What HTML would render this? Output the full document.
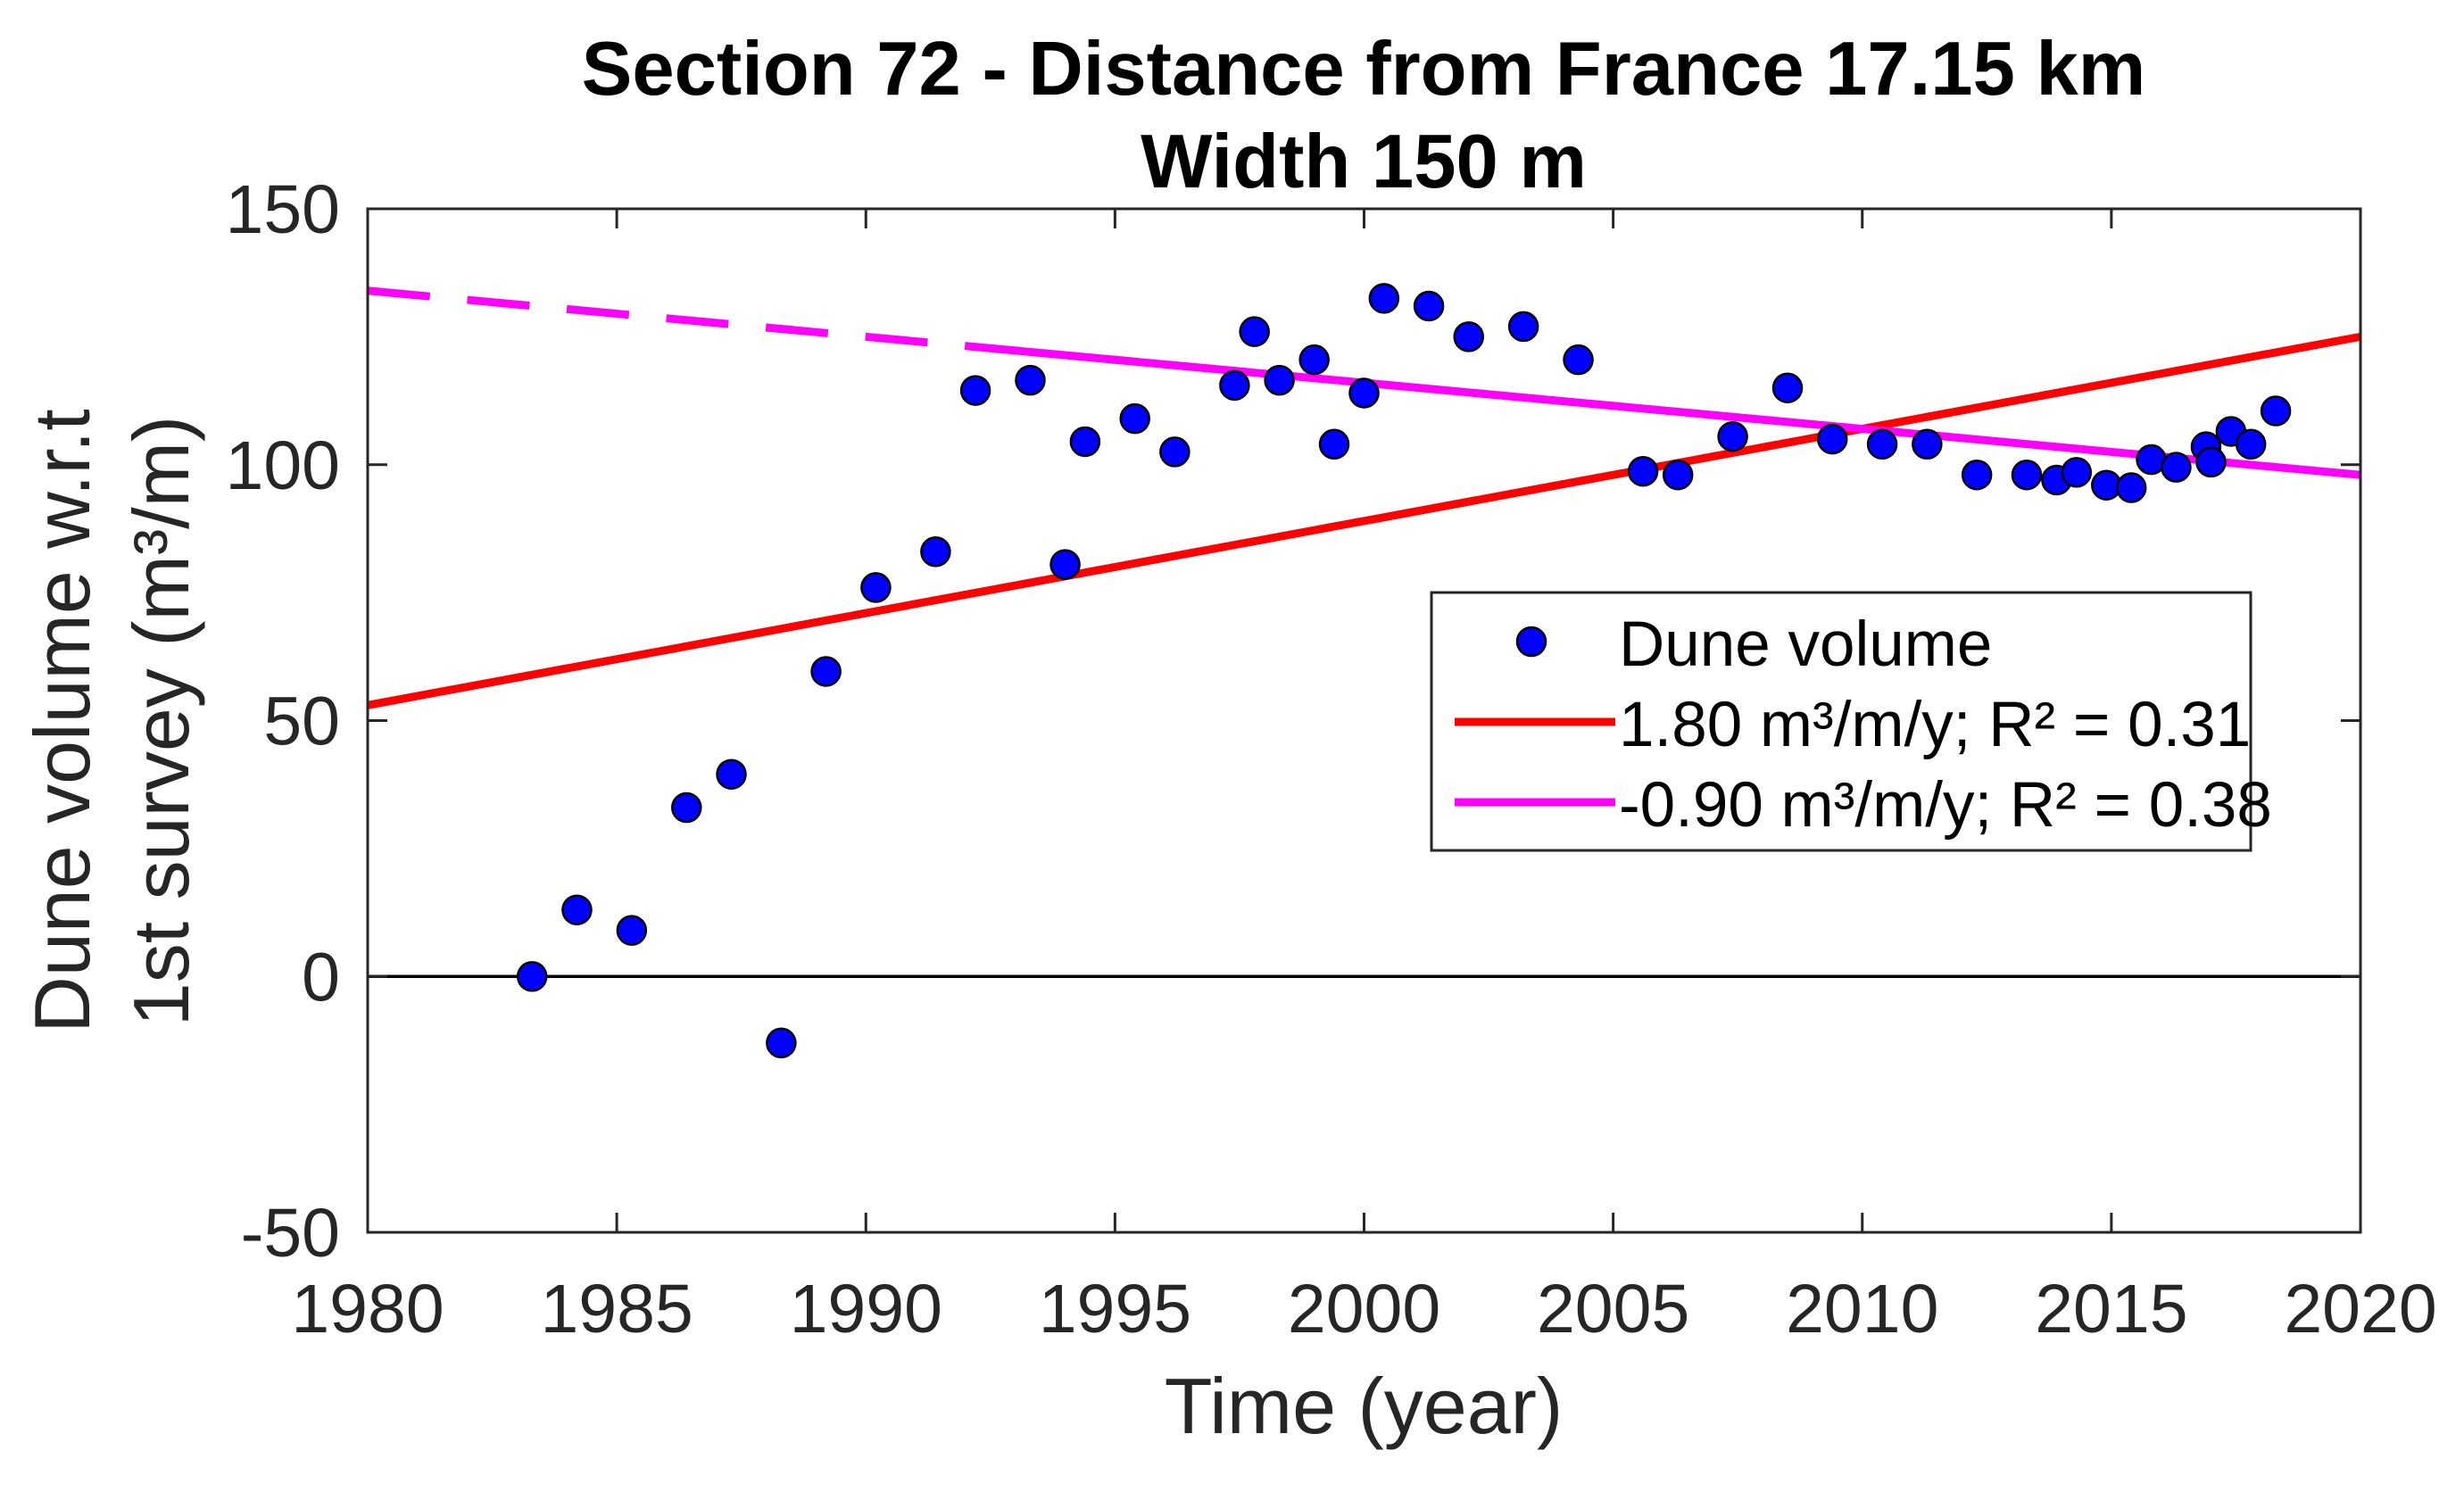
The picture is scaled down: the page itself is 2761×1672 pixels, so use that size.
<!DOCTYPE html>
<html><head><meta charset="utf-8"><style>
html,body{margin:0;padding:0;background:#fff;}
svg{display:block;font-family:"Liberation Sans",Arial,sans-serif;}
</style></head><body>
<svg id="chart" width="2761" height="1672" viewBox="0 0 2761 1672" xmlns="http://www.w3.org/2000/svg">
<rect width="2761" height="1672" fill="#fff"/>
<text x="1528" y="106" font-size="85" font-weight="bold" text-anchor="middle">Section 72 - Distance from France 17.15 km</text>
<text x="1528" y="210" font-size="85" font-weight="bold" text-anchor="middle">Width 150 m</text>
<g id="plot"></g>
<text x="1528" y="1606" font-size="88" text-anchor="middle" fill="#262626">Time (year)</text>
<g fill="#262626" font-size="88" text-anchor="middle">
<text transform="translate(100,808) rotate(-90)">Dune volume w.r.t</text>
<text transform="translate(211,808) rotate(-90)">1st survey (m³/m)</text>
</g>
</svg>
<script>
const years=[1983.3,1984.2,1985.3,1986.4,1987.3,1988.3,1989.2,1990.2,1991.4,1992.2,1993.3,1994.0,1994.4,1995.4,1996.2,1997.4,1997.8,1998.3,1999.0,1999.4,2000.0,2000.4,2001.3,2002.1,2003.2,2004.3,2005.6,2006.3,2007.4,2008.5,2009.4,2010.4,2011.3,2012.3,2013.3,2013.9,2014.3,2014.9,2015.4,2015.8,2016.3,2016.9,2017.0,2017.4,2017.8,2018.3];
const volumes=[0,13,9,33,39.5,-13,59.6,76,83,114.5,116.5,80.5,104.5,109,102.5,115.5,126,116.5,120.5,104,114,132.5,131,125,127,120.5,98.7,98,105.5,115,105,104,104,98,98,97,98.5,96,95.5,101,99.5,103.5,100.5,106.5,104,110.5];
const xTicks=[1980,1985,1990,1995,2000,2005,2010,2015,2020];
const yTicks=[-50,0,50,100,150];
const redFit=[1.80,53]; // slope, value at 1980
const magFit=[-0.90,134];
const magDashEnd=[1992.3];
const NS="http://www.w3.org/2000/svg";
const L=412,R=2645,T=234,B=1381;
const X=v=>L+(v-1980)/40*(R-L);
const Y=v=>B-(v+50)/200*(B-T);
const g=document.getElementById('plot');
function mk(tag,attrs,parent){const e=document.createElementNS(NS,tag);for(const k in attrs)e.setAttribute(k,attrs[k]);(parent||g).appendChild(e);return e;}
let z=mk('line',{x1:L,x2:R,y1:Y(0),y2:Y(0),stroke:'#000','stroke-width':3.5});


xTicks.forEach(t=>{
 let a=mk('line',{x1:X(t),x2:X(t),y1:B,y2:B-22,stroke:'#262626','stroke-width':3});
 
 
 let b=mk('line',{x1:X(t),x2:X(t),y1:T,y2:T+22,stroke:'#262626','stroke-width':3});
 
 
 let tx=mk('text',{x:X(t),y:1493,'font-size':77,'text-anchor':'middle',fill:'#262626'});
 tx.textContent=t;
 
 
});
yTicks.forEach(t=>{
 let a=mk('line',{x1:L,x2:L+22,y1:Y(t),y2:Y(t),stroke:'#262626','stroke-width':3});
 
 
 let b=mk('line',{x1:R,x2:R-22,y1:Y(t),y2:Y(t),stroke:'#262626','stroke-width':3});
 
 
 let tx=mk('text',{x:381,y:Y(t)+27,'font-size':77,'text-anchor':'end',fill:'#262626'});
 tx.textContent=t;
 
 
});
const fy=(f,x)=>f[1]+f[0]*(x-1980);
let red=mk('line',{x1:X(1980),y1:Y(fy(redFit,1980)),x2:X(2020),y2:Y(fy(redFit,2020)),stroke:'#ff0000','stroke-width':9});


let md=mk('line',{x1:X(1980),y1:Y(fy(magFit,1980)),x2:X(magDashEnd[0]),y2:Y(fy(magFit,magDashEnd[0])),stroke:'#ff00ff','stroke-width':9,'stroke-dasharray':'70 42'});


let ms=mk('line',{x1:X(magDashEnd[0]),y1:Y(fy(magFit,magDashEnd[0])),x2:X(2020),y2:Y(fy(magFit,2020)),stroke:'#ff00ff','stroke-width':9});


years.forEach((yr,i)=>{
 let c=mk('circle',{cx:X(yr),cy:Y(volumes[i]),r:16,fill:'#0000ff',stroke:'#000','stroke-width':2.5});
 
 
});
let box=mk('rect',{x:L,y:T,width:R-L,height:B-T,fill:'none',stroke:'#262626','stroke-width':3});


const lg=mk('g',{});


mk('rect',{x:1604,y:664,width:918,height:289,fill:'#fff',stroke:'#262626','stroke-width':3},lg);
let lc=mk('circle',{cx:1716,cy:719,r:16,fill:'#0000ff',stroke:'#000','stroke-width':2.5},lg);


mk('line',{x1:1630,x2:1810,y1:809,y2:809,stroke:'#ff0000','stroke-width':9},lg);
mk('line',{x1:1630,x2:1810,y1:899,y2:899,stroke:'#ff00ff','stroke-width':9},lg);
[['Dune volume',746],['1.80 m³/m/y; R² = 0.31',836],['-0.90 m³/m/y; R² = 0.38',926]].forEach(e=>{
 let t=mk('text',{x:1814,y:e[1],'font-size':71,fill:'#000'},lg);
 t.textContent=e[0];
 
 
});
</script>
</body></html>
